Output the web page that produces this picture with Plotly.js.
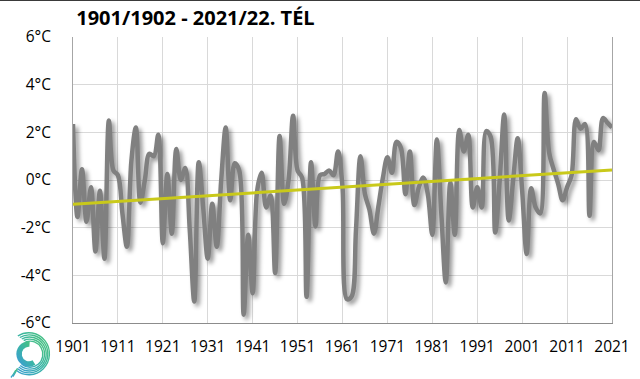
<!DOCTYPE html>
<html>
<head>
<meta charset="utf-8">
<script src="https://cdn.plot.ly/plotly-3.0.1.min.js"></script>
<style>
  html, body { margin: 0; padding: 0; background: #fff; }
  #chart { width: 640px; height: 379px; }
</style>
</head>
<body>
<div id="chart"></div>
<script>
// Winter (Dec-Feb) temperature anomaly, 1901/02 .. 2021/22
const years = [];
for (let y = 1901; y <= 2021; y++) years.push(y);

const anomalies = [
  2.35, -1.55, 0.45, -1.75, -0.3, -3.0, -0.45, -3.3, 2.5, 0.4,      // 1901-1910
  0.2, -1.4, -2.8, 0.8, 2.2, -0.95, 0.0, 1.1, 1.0, 1.9,             // 1911-1920
  -2.65, 0.25, -2.25, 1.3, 0.0, 0.5, -2.1, -5.1, 0.75, -1.2,        // 1921-1930
  -3.3, -1.0, -2.8, 0.0, 2.2, -0.85, 0.7, 0.4, -5.65, -2.3,         // 1931-1940
  -4.75, -0.45, 0.3, -1.15, -0.65, -3.9, 1.85, -1.0, 0.0, 2.7,      // 1941-1950
  0.4, 0.1, -4.9, 0.75, -1.95, 0.2, 0.25, 0.4, 0.2, 1.2,            // 1951-1960
  -0.3, -5.0, -4.9, -2.1, 1.0, -0.6, -1.25, -2.25, -1.1, 0.1,       // 1961-1970
  0.95, 0.3, 1.6, 1.35, -0.6, 1.2, -1.05, -0.3, 0.1, -0.6,          // 1971-1980
  -2.3, 1.7, -1.4, -4.3, -0.1, -2.3, 2.1, 1.2, 1.9, -1.15,          // 1981-1990
  -0.3, -1.15, 2.05, 1.8, -2.2, 0.0, 2.75, -1.7, 0.0, 1.75,         // 1991-2000
  -0.45, -3.1, -0.35, -1.15, -1.4, 3.65, 1.15, 0.45, -0.15, -0.85,  // 2001-2010
  -0.3, 0.2, 2.55, 2.15, 2.35, -1.5, 1.6, 1.25, 2.6, 2.4,           // 2011-2020
  2.2                                                              // 2021
];

const trendYears = [1901, 2021];
const trendValues = [-1.02, 0.42];

const xTickVals = [1901, 1911, 1921, 1931, 1941, 1951, 1961, 1971, 1981, 1991, 2001, 2011, 2021];
const xTickText = ["1901", "1911", "1921", "1931", "1941", "1951", "1961", "1971", "1981", "1991", "2001", "2011", "2021"];
const yTickVals = [-6, -4, -2, 0, 2, 4, 6];
const yTickText = ["-6°C", "-4°C", "-2°C", "0°C", "2°C", "4°C", "6°C"];

const titleText = "1901/1902 - 2021/22. TÉL";

const logoSvg =
  '<svg xmlns="http://www.w3.org/2000/svg" width="48" height="50" viewBox="0 0 48 50">' +
  '<defs><linearGradient id="g" x1="1" y1="0" x2="0" y2="1">' +
  '<stop offset="0" stop-color="#4cc47a"/><stop offset="0.5" stop-color="#3bb5a5"/><stop offset="1" stop-color="#3a9fd0"/></linearGradient></defs>' +
  '<g fill="none" stroke="url(#g)" stroke-width="1.4">' +
  '<path d="M9 7 A21 21 0 1 1 7 41"/>' +
  '<path d="M11 8.5 A19 19 0 1 1 8.5 39.5"/>' +
  '<path d="M13 10 A17 17 0 1 1 10 38"/>' +
  '<path d="M15 11.5 A15 15 0 1 1 11.5 36.5"/>' +
  '<path d="M17 13 A13 13 0 1 1 13 35"/>' +
  '<path d="M7 41 Q4.5 45.5 2 48.5"/>' +
  '<path d="M8.5 39.5 Q6.5 44 4 47.5"/>' +
  '</g>' +
  '<path d="M21 15 A10 10 0 1 0 25.5 33.5" fill="none" stroke="url(#g)" stroke-width="5.5"/>' +
  '</svg>';
const logoUri = 'data:image/svg+xml;charset=utf-8,' + encodeURIComponent(logoSvg);

const font = "'Open Sans', 'Noto Sans', sans-serif";

const traces = [
  {
    x: years, y: anomalies, type: 'scatter', mode: 'lines',
    line: { color: '#808080', width: 4.5, shape: 'spline', smoothing: 1 },
    hoverinfo: 'skip'
  },
  {
    x: trendYears, y: trendValues, type: 'scatter', mode: 'lines',
    line: { color: '#c9c91a', width: 3 },
    hoverinfo: 'skip'
  }
];

const layout = {
  width: 640, height: 379,
  margin: { l: 73, r: 28, t: 37, b: 56 },
  paper_bgcolor: '#ffffff', plot_bgcolor: '#ffffff',
  showlegend: false,
  font: { family: font, size: 15, color: '#000' },
  title: {
    text: '<b>' + titleText + '</b>',
    font: { family: font, size: 20, color: '#000' },
    x: 0.006, xref: 'paper', xanchor: 'left',
    y: 1 - 18 / 379, yref: 'container', yanchor: 'middle'
  },
  xaxis: {
    range: [1901, 2021],
    tickvals: xTickVals, ticktext: xTickText,
    showgrid: true, gridcolor: '#d9d9d9', gridwidth: 1,
    zeroline: false,
    showline: true, linecolor: '#8c8c8c', linewidth: 1,
    ticks: '', ticklabelstandoff: 9,
    tickfont: { family: font, size: 15.5, color: '#000' }
  },
  yaxis: {
    range: [-6, 6],
    tickvals: yTickVals, ticktext: yTickText,
    showgrid: true, gridcolor: '#d9d9d9', gridwidth: 1,
    zeroline: false,
    showline: true, mirror: true, linecolor: '#a6a6a6', linewidth: 1,
    ticks: '', ticklabelstandoff: 18,
    tickfont: { family: font, size: 15.5, color: '#000' }
  },
  shapes: [
    { type: 'line', xref: 'paper', yref: 'paper',
      x0: -73 / 539, x1: 567 / 539, y0: 1 + 37 / 286, y1: 1 + 37 / 286,
      line: { color: '#3a3a3a', width: 2 } }
  ],
  images: [
    { source: logoUri, xref: 'paper', yref: 'paper',
      x: (9 - 73) / 539, y: (323 - 329) / 286,
      sizex: 47 / 539, sizey: 50 / 286,
      xanchor: 'left', yanchor: 'top', sizing: 'stretch', layer: 'above' }
  ]
};

Plotly.newPlot('chart', traces, layout, { staticPlot: true, displayModeBar: false }).then(function (gd) {
  const traceGroups = gd.querySelectorAll('.scatterlayer .trace');
  if (traceGroups.length) {
    traceGroups[0].querySelectorAll('path.js-line').forEach(function (p) {
      p.style.filter = 'drop-shadow(3px 3px 2px rgba(0,0,0,0.4))';
    });
  }
});
</script>
</body>
</html>
